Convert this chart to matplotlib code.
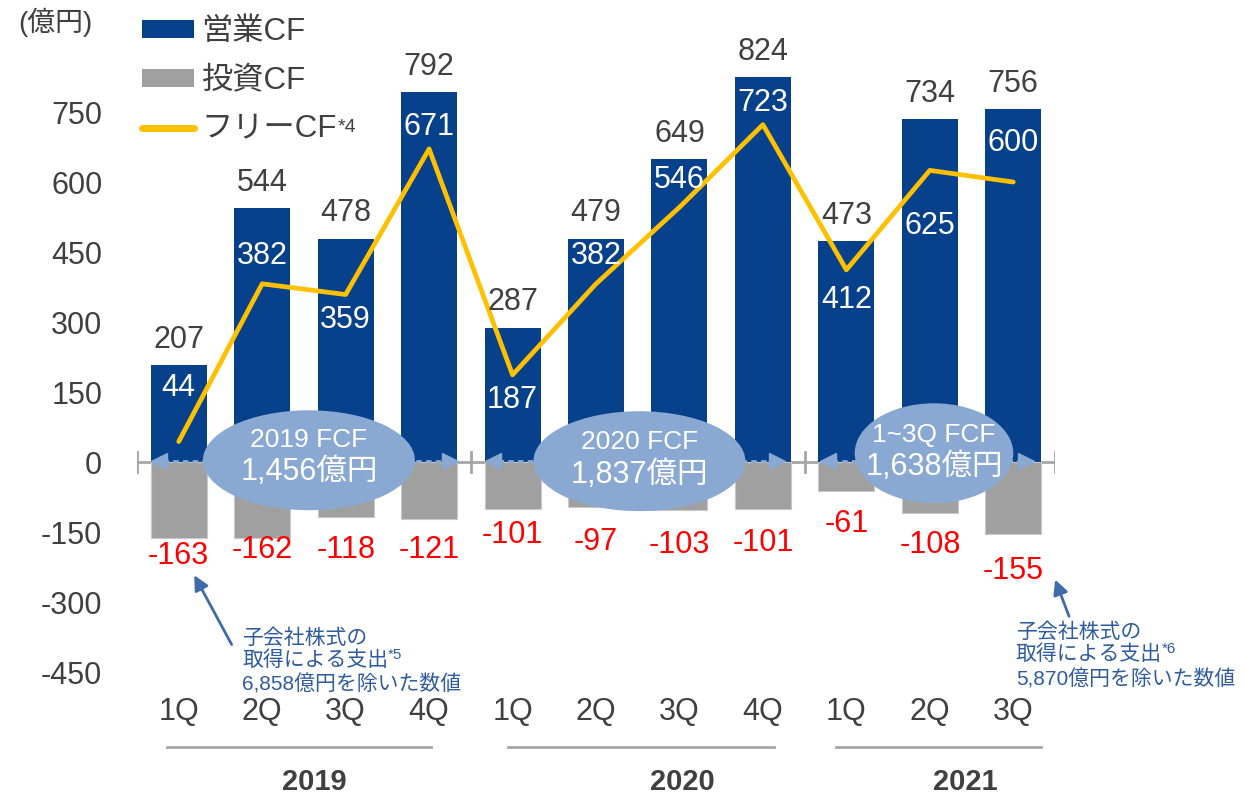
import matplotlib
matplotlib.use("Agg")
import matplotlib.pyplot as plt
from matplotlib.patches import Ellipse, Patch
from matplotlib.lines import Line2D
import numpy as np

plt.rcParams['font.family'] = ['Liberation Sans', 'Noto Sans CJK JP']

NAVY = "#07418B"
GRAY = "#A0A0A0"
YELLOW = "#FFC000"
OVAL = "#8AA9D2"
RED = "#FF0000"
TXT = "#404040"
NOTE = "#2E5C9E"

# data
quarters = ["1Q", "2Q", "3Q", "4Q", "1Q", "2Q", "3Q", "4Q", "1Q", "2Q", "3Q"]
years = ["2019", "2020", "2021"]
op_cf = [207, 544, 478, 792, 287, 479, 649, 824, 473, 734, 756]
inv_cf = [-163, -162, -118, -121, -101, -97, -103, -101, -61, -108, -155]
free_cf = [44, 382, 359, 671, 187, 382, 546, 723, 412, 625, 600]
fcf_title = ["2019 FCF", "2020 FCF", "1~3Q FCF"]
fcf_total = ["1,456億円", "1,837億円", "1,638億円"]
yticks = [-450, -300, -150, 0, 150, 300, 450, 600, 750]

# layout
fcf_label_y = [159, 442, 305, 718, 133, 442, 604, 769, 347, 506, 684]
inv_label_y = [-201, -188, -188, -188, -156, -171, -178, -173, -133, -178, -233]
year_spans = [(-0.14, 3.02), (3.95, 7.13), (7.87, 10.33)]
year_label_x = [1.62, 6.04, 9.43]
oval_xy = [(1.56, 4), (5.52, 2), (9.05, 19)]
oval_w = [2.54, 2.54, 1.9]
oval_text_y = [(47, -21), (43, -28), (58, -10)]
span_arrows = [(-0.34, 3.35), (3.67, 7.27), (7.68, 10.25)]

fig = plt.figure(figsize=(12.45, 7.94), dpi=100)
ax = fig.add_axes([137/1245, 0, 918/1245, 1])
ax.set_xlim(-0.5, 10.5)
ax.set_ylim(-711, 990)
for s in ax.spines.values():
    s.set_visible(False)
ax.set_xticks([])
ax.set_yticks(yticks)
ax.set_yticklabels([str(v) for v in yticks], fontsize=22, color=TXT)
ax.tick_params(axis='y', length=0, pad=25)

x = np.arange(len(quarters))
ax.bar(x, op_cf, width=0.67, color=NAVY, zorder=2)
ax.bar(x, inv_cf, width=0.67, color=GRAY, edgecolor="#C8C8C8", linewidth=0.8, zorder=2)

# baseline with group ticks
ax.plot([-0.5, 10.5], [0, 0], color="#A6A6A6", lw=2, zorder=1)
for bx in [-0.5, 3.5, 7.5, 10.5]:
    ax.plot([bx, bx], [-21, 21], color="#A6A6A6", lw=2, zorder=1)

ax.plot(x, free_cf, color=YELLOW, lw=3.4, solid_capstyle='round', solid_joinstyle='round', zorder=4)

# dashed span arrows and FCF ovals
for (a, b), (cx, cy), w, t1, t2, (ty1, ty2) in zip(span_arrows, oval_xy, oval_w, fcf_title, fcf_total, oval_text_y):
    ax.plot([a + 0.15, b - 0.15], [3, 3], color=OVAL, lw=2, ls=(0, (2, 1.5)), zorder=5)
    ax.plot([a + 0.1], [3], marker='<', color=OVAL, ms=12, mec=OVAL, zorder=5)
    ax.plot([b - 0.1], [3], marker='>', color=OVAL, ms=12, mec=OVAL, zorder=5)
    ax.add_patch(Ellipse((cx, cy), w, 214, facecolor=OVAL, edgecolor='none', zorder=6))
    ax.text(cx, ty1, t1, fontsize=19, color='white', ha='center', va='center', zorder=7)
    ax.text(cx, ty2, t2, fontsize=22, color='white', ha='center', va='center', zorder=7)

# value labels
for i in range(len(x)):
    ax.text(x[i], op_cf[i] + 55, str(op_cf[i]), fontsize=22, color=TXT, ha='center', va='center', zorder=8)
    ax.text(x[i], fcf_label_y[i], str(free_cf[i]), fontsize=22, color='white', ha='center', va='center', zorder=8)
    ax.text(x[i], inv_label_y[i], str(inv_cf[i]), fontsize=22, color=RED, ha='center', va='center', zorder=8)
    ax.text(x[i], -535, quarters[i], fontsize=22, color=TXT, ha='center', va='center')

for (a, b), lx, yr in zip(year_spans, year_label_x, years):
    ax.plot([a, b], [-610, -610], color="#A6A6A6", lw=2, clip_on=False)
    ax.text(lx, -685, yr, fontsize=21, fontweight='bold', color=TXT, ha='center', va='center')

ax.text(-1.48, 943, "(億円)", fontsize=20, color=TXT, ha='center', va='center')

# notes
notes = [
    dict(tip=(0.17, -237), tail=(0.65, -396), tx=0.76, ys=[-377, -424, -477], amount="6,858", sup="*5"),
    dict(tip=(10.49, -246), tail=(10.68, -336), tx=10.03, ys=[-364, -411, -465], amount="5,870", sup="*6"),
]
sup_texts = []
for n in notes:
    ax.annotate("", xy=n["tip"], xytext=n["tail"],
                arrowprops=dict(arrowstyle='-|>', color="#3F6BAA", lw=2, mutation_scale=22), annotation_clip=False)
    ax.text(n["tx"], n["ys"][0], "子会社株式の", fontsize=15, color=NOTE, ha='left', va='center')
    t2 = ax.text(n["tx"], n["ys"][1], "取得による支出", fontsize=15, color=NOTE, ha='left', va='center')
    ax.text(n["tx"], n["ys"][2], n["amount"] + "億円を除いた数値", fontsize=15, color=NOTE, ha='left', va='center')
    sup_texts.append((t2, n["sup"]))

handles = [Patch(facecolor=NAVY), Patch(facecolor=GRAY),
           Line2D([0], [0], color=YELLOW, lw=5, solid_capstyle='round')]
leg = ax.legend(handles, ["営業CF", "投資CF", "フリーCF"], loc='upper left',
                bbox_to_anchor=(142/1245, 1 - 17/794), bbox_transform=fig.transFigure,
                frameon=False, fontsize=22.5, labelspacing=0.6, handlelength=1.65,
                handleheight=0.5, handletextpad=0.25, borderpad=0, borderaxespad=0)
for t in leg.get_texts():
    t.set_color(TXT)

fig.canvas.draw()
r = fig.canvas.get_renderer()
bb = leg.get_texts()[2].get_window_extent(r)
fig.text(bb.x1 / 1245 + 0.001, (bb.y1 - 4) / 794, "*4", fontsize=14, color=TXT, ha='left', va='top')
for t2, s in sup_texts:
    bb = t2.get_window_extent(r)
    fig.text(bb.x1 / 1245, (bb.y1 + 2) / 794, s, fontsize=11, color=NOTE, ha='left', va='top')

fig.savefig("out.png", dpi=100)
